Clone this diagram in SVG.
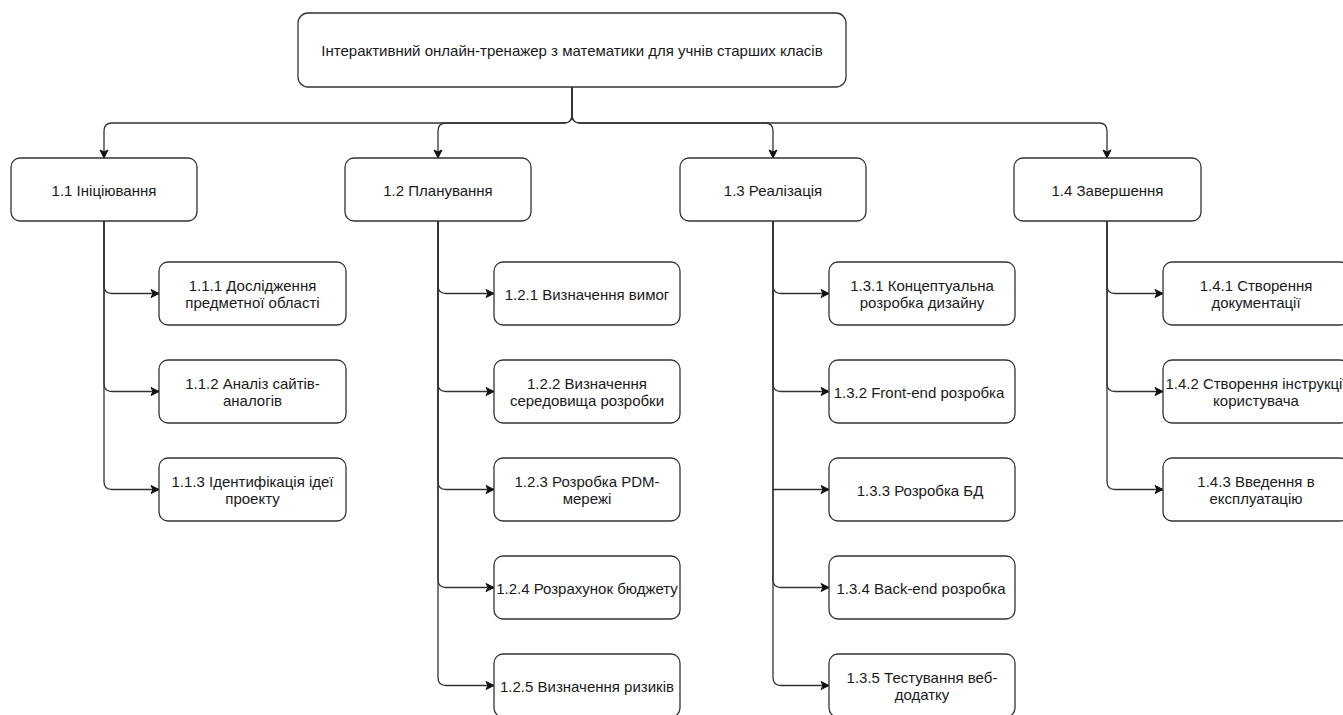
<svg xmlns="http://www.w3.org/2000/svg" width="1343" height="715" viewBox="0 0 1343 715">
  <style>
    .box { fill: #ffffff; stroke: #333333; stroke-width: 1.3; }
    .lbl { font-family: "Liberation Sans", Arial, sans-serif; font-size: 15px; fill: #1a1a1a; text-anchor: middle; dominant-baseline: central; }
    .edge { fill: none; stroke: #333333; stroke-width: 1.3; marker-end: url(#arrow); }
  </style>
  <defs>
    <marker id="arrow" markerUnits="userSpaceOnUse" markerWidth="10" markerHeight="10" refX="9" refY="5" orient="auto">
      <path d="M1,1 L9,5 L1,9 L3,5 z" fill="#111111" stroke="#111111" stroke-width="1"/>
    </marker>
  </defs>
  <rect width="1343" height="715" fill="#ffffff"/>

  <!-- connectors -->
  <g id="connectors">
    <!-- root to phases -->
    <path class="edge" d="M572,87 V115 Q572,123 564,123 H112 Q104,123 104,131 V158"/>
    <path class="edge" d="M572,87 V115 Q572,123 564,123 H446 Q438,123 438,131 V158"/>
    <path class="edge" d="M572,87 V115 Q572,123 580,123 H765 Q773,123 773,131 V158"/>
    <path class="edge" d="M572,87 V115 Q572,123 580,123 H1099 Q1107,123 1107,131 V158"/>
    <!-- 1.1 children -->
    <path class="edge" d="M104,221 V285.5 Q104,293.5 112,293.5 H159"/>
    <path class="edge" d="M104,221 V383.5 Q104,391.5 112,391.5 H159"/>
    <path class="edge" d="M104,221 V481.5 Q104,489.5 112,489.5 H159"/>
    <!-- 1.2 children -->
    <path class="edge" d="M438,221 V285.5 Q438,293.5 446,293.5 H494"/>
    <path class="edge" d="M438,221 V383.5 Q438,391.5 446,391.5 H494"/>
    <path class="edge" d="M438,221 V481.5 Q438,489.5 446,489.5 H494"/>
    <path class="edge" d="M438,221 V579.5 Q438,587.5 446,587.5 H494"/>
    <path class="edge" d="M438,221 V677.5 Q438,685.5 446,685.5 H494"/>
    <!-- 1.3 children -->
    <path class="edge" d="M773,221 V285.5 Q773,293.5 781,293.5 H829"/>
    <path class="edge" d="M773,221 V383.5 Q773,391.5 781,391.5 H829"/>
    <path class="edge" d="M773,489.5 H829"/>
    <path class="edge" d="M773,221 V579.5 Q773,587.5 781,587.5 H829"/>
    <path class="edge" d="M773,221 V677.5 Q773,685.5 781,685.5 H829"/>
    <!-- 1.4 children -->
    <path class="edge" d="M1107,221 V285.5 Q1107,293.5 1115,293.5 H1163"/>
    <path class="edge" d="M1107,221 V383.5 Q1107,391.5 1115,391.5 H1163"/>
    <path class="edge" d="M1107,221 V481.5 Q1107,489.5 1115,489.5 H1163"/>
  </g>

  <!-- root -->
  <g id="root">
    <rect class="box" x="298" y="13" width="548" height="74" rx="10"/>
    <text class="lbl" x="572" y="50">Інтерактивний онлайн-тренажер з математики для учнів старших класів</text>
  </g>

  <!-- phases -->
  <g id="n1_1">
    <rect class="box" x="11" y="158" width="186" height="63" rx="9"/>
    <text class="lbl" x="104" y="190">1.1 Ініціювання</text>
  </g>
  <g id="n1_2">
    <rect class="box" x="345" y="158" width="186" height="63" rx="9"/>
    <text class="lbl" x="438" y="190">1.2 Планування</text>
  </g>
  <g id="n1_3">
    <rect class="box" x="680" y="158" width="186" height="63" rx="9"/>
    <text class="lbl" x="773" y="190">1.3 Реалізація</text>
  </g>
  <g id="n1_4">
    <rect class="box" x="1014" y="158" width="187" height="63" rx="9"/>
    <text class="lbl" x="1107.5" y="190">1.4 Завершення</text>
  </g>

  <!-- 1.1 work packages -->
  <g id="n1_1_1">
    <rect class="box" x="159" y="262" width="187" height="63" rx="9"/>
    <text class="lbl" x="252.5" y="285.5">1.1.1 Дослідження</text>
    <text class="lbl" x="252.5" y="302.5">предметної області</text>
  </g>
  <g id="n1_1_2">
    <rect class="box" x="159" y="360" width="187" height="63" rx="9"/>
    <text class="lbl" x="252.5" y="383.5">1.1.2 Аналіз сайтів-</text>
    <text class="lbl" x="252.5" y="400.5">аналогів</text>
  </g>
  <g id="n1_1_3">
    <rect class="box" x="159" y="458" width="187" height="63" rx="9"/>
    <text class="lbl" x="252.5" y="481.5">1.1.3 Ідентифікація ідеї</text>
    <text class="lbl" x="252.5" y="498.5">проекту</text>
  </g>

  <!-- 1.2 work packages -->
  <g id="n1_2_1">
    <rect class="box" x="494" y="262" width="186" height="63" rx="9"/>
    <text class="lbl" x="587" y="294">1.2.1 Визначення вимог</text>
  </g>
  <g id="n1_2_2">
    <rect class="box" x="494" y="360" width="186" height="63" rx="9"/>
    <text class="lbl" x="587" y="383.5">1.2.2 Визначення</text>
    <text class="lbl" x="587" y="400.5">середовища розробки</text>
  </g>
  <g id="n1_2_3">
    <rect class="box" x="494" y="458" width="186" height="63" rx="9"/>
    <text class="lbl" x="587" y="481.5">1.2.3 Розробка PDM-</text>
    <text class="lbl" x="587" y="498.5">мережі</text>
  </g>
  <g id="n1_2_4">
    <rect class="box" x="494" y="556" width="186" height="63" rx="9"/>
    <text class="lbl" x="587" y="588">1.2.4 Розрахунок бюджету</text>
  </g>
  <g id="n1_2_5">
    <rect class="box" x="494" y="654" width="186" height="63" rx="9"/>
    <text class="lbl" x="587" y="686">1.2.5 Визначення ризиків</text>
  </g>

  <!-- 1.3 work packages -->
  <g id="n1_3_1">
    <rect class="box" x="829" y="262" width="186" height="63" rx="9"/>
    <text class="lbl" x="922" y="285.5">1.3.1 Концептуальна</text>
    <text class="lbl" x="922" y="302.5">розробка дизайну</text>
  </g>
  <g id="n1_3_2">
    <rect class="box" x="829" y="360" width="186" height="63" rx="9"/>
    <text class="lbl" x="919" y="392">1.3.2 Front-end розробка</text>
  </g>
  <g id="n1_3_3">
    <rect class="box" x="829" y="458" width="186" height="63" rx="9"/>
    <text class="lbl" x="920" y="490">1.3.3 Розробка БД</text>
  </g>
  <g id="n1_3_4">
    <rect class="box" x="829" y="556" width="186" height="63" rx="9"/>
    <text class="lbl" x="921" y="588">1.3.4 Back-end розробка</text>
  </g>
  <g id="n1_3_5">
    <rect class="box" x="829" y="654" width="186" height="63" rx="9"/>
    <text class="lbl" x="922" y="677.5">1.3.5 Тестування веб-</text>
    <text class="lbl" x="922" y="694.5">додатку</text>
  </g>

  <!-- 1.4 work packages -->
  <g id="n1_4_1">
    <rect class="box" x="1163" y="262" width="186" height="63" rx="9"/>
    <text class="lbl" x="1256" y="285.5">1.4.1 Створення</text>
    <text class="lbl" x="1256" y="302.5">документації</text>
  </g>
  <g id="n1_4_2">
    <rect class="box" x="1163" y="360" width="186" height="63" rx="9"/>
    <text class="lbl" x="1256" y="383.5">1.4.2 Створення інструкції</text>
    <text class="lbl" x="1256" y="400.5">користувача</text>
  </g>
  <g id="n1_4_3">
    <rect class="box" x="1163" y="458" width="186" height="63" rx="9"/>
    <text class="lbl" x="1256" y="481.5">1.4.3 Введення в</text>
    <text class="lbl" x="1256" y="498.5">експлуатацію</text>
  </g>
</svg>
